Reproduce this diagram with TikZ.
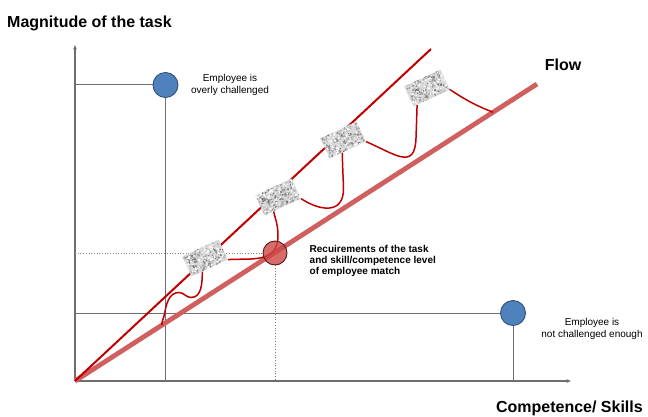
\documentclass[tikz,border=0pt]{standalone}
\usepackage{fontspec}
\setmainfont{Liberation Sans}
\usetikzlibrary{arrows.meta,calc}
\pgfdeclarelayer{background}
\pgfsetlayers{background,main}
\definecolor{axisgray}{RGB}{110,110,110}
\definecolor{darkred}{RGB}{192,0,0}
\definecolor{flowred}{RGB}{208,95,95}
\definecolor{bluefill}{RGB}{79,129,189}
\definecolor{blueedge}{RGB}{50,80,120}
\definecolor{matchfill}{RGB}{205,70,70}
\definecolor{matchedge}{RGB}{90,25,25}
\tikzset{
 axisline/.style={draw=axisgray, line width=1.1pt, -{Triangle[length=4.5pt,width=3.5pt]}},
 guideline/.style={draw=axisgray, line width=1pt},
 dotguide/.style={draw=gray, line width=0.7pt, dotted},
 taskline/.style={draw=darkred, line width=2pt},
 flowline/.style={draw=flowred, line width=4.8pt},
 waveline/.style={draw=darkred, line width=1.5pt},
 bluedot/.style={circle, fill=bluefill, draw=blueedge, line width=0.9pt, minimum size=25pt, inner sep=0pt},
 matchdot/.style={circle, fill=matchfill, fill opacity=0.8, draw=matchedge, line width=0.9pt, minimum size=24pt, inner sep=0pt},
 stonebox/.style={rectangle, minimum width=40pt, minimum height=22pt, inner sep=0pt, rotate=25, fill=gray!30},
 smalltxt/.style={font=\fontsize{10}{12}\selectfont, align=center, inner sep=0pt},
 bigtxt/.style={font=\fontsize{16}{19}\selectfont\bfseries, inner sep=0pt},
}
\newcommand\stonegrain[1]{%
 \begin{scope}[shift={(#1.center)}, rotate=25]
  \clip (-20,-11) rectangle (20,11);
  \foreach \k in {1,...,260}{%
   \pgfmathsetmacro\gx{-20+40*rnd}%
   \pgfmathsetmacro\gy{-11+22*rnd}%
   \pgfmathsetmacro\gg{int(5+55*rnd)}%
   \pgfmathsetmacro\gr{0.5+0.8*rnd}%
   \fill[black!\gg] (\gx,\gy) circle (\gr);
  }
  \foreach \k in {1,...,70}{%
   \pgfmathsetmacro\gx{-20+40*rnd}%
   \pgfmathsetmacro\gy{-11+22*rnd}%
   \pgfmathsetmacro\gr{0.5+0.7*rnd}%
   \fill[white] (\gx,\gy) circle (\gr);
  }
 \end{scope}}
\begin{document}
\begin{tikzpicture}[x=1pt,y=1pt]
\pgfmathsetseed{7}
\useasboundingbox (0,0) rectangle (648,416);
\coordinate (O) at (75,35);
\coordinate (yT) at (75,371);
\coordinate (xT) at (571,35);
\coordinate (U) at (431,367);
\coordinate (L) at (537,332);
\coordinate (c1) at ($(O)!0.188!(L)$);
\coordinate (c5) at ($(O)!0.9048!(L)$);
% circles
\node[bluedot] (b1) at (165.5,331) {};
\node[bluedot] (b2) at (513,103) {};
\node[matchdot] (m) at (275,163) {};
\coordinate (b1y) at (75,331);
\coordinate (b1x) at (165.5,35);
\coordinate (b2y) at (75,103);
\coordinate (b2x) at (513,35);
\coordinate (my) at (75,163);
\coordinate (mx) at (275,35);
% stones
\node[stonebox] (s1) at (205,158) {};
\stonegrain{s1}
\node[stonebox] (s2) at (278,219) {};
\stonegrain{s2}
\node[stonebox] (s3) at (343,276) {};
\stonegrain{s3}
\node[stonebox] (s4) at (427,328) {};
\stonegrain{s4}
% texts
\node[bigtxt, anchor=base west] (title) at (7,388) {Magnitude of the task};
\node[bigtxt, anchor=base east] (xlabel) at (643,4) {Competence/ Skills};
\node[bigtxt] (flow) at (563,351) {Flow};
\node[smalltxt] (t1) at (230,331) {Employee is\\overly challenged};
\node[smalltxt] (t2) at (592,87) {Employee is\\not challenged enough};
\node[font=\fontsize{10}{11}\selectfont\bfseries, align=left, anchor=north west, inner sep=0pt] (t3) at (309.5,170.5) {Recuirements of the task\\and skill/competence level\\of employee match};
\begin{pgfonlayer}{background}
\draw[axisline] (O) -- (yT);
\draw[axisline] (O) -- (xT);
\draw[guideline] (b1y) -- (b1);
\draw[guideline] (b1) -- (b1x);
\draw[guideline] (b2y) -- (b2);
\draw[guideline] (b2) -- (b2x);
\draw[dotguide] (my) -- (m);
\draw[dotguide] (m) -- (mx);
\draw[flowline] (O) -- (L);
\draw[taskline] (O) -- (U);
\draw[waveline] ($(s1.south west)!0.3!(s1.south east)$) to[out=-92,in=0] (191,118.5) to[out=180,in=0] (179,123.5) to[out=180,in=80] (164.5,102) to[out=-100,in=92] (c1);
\draw[waveline] (s1.south east) .. controls (250,158) and (278,152) .. (278,180) .. controls (278,192) and (275,198) .. ($(s2.south west)!0.25!(s2.south east)$);
\draw[waveline] (s2.south east) .. controls (318,206) and (344,200) .. (343.5,228) .. controls (343,242) and (342.5,252) .. ($(s3.south west)!0.35!(s3.south east)$);
\draw[waveline] (s3.south east) .. controls (395,262) and (415,245) .. (416,278) .. controls (416.5,292) and (416.8,302) .. ($(s4.south west)!0.1!(s4.south east)$);
\draw[waveline] (s4.south east) to[bend right=6] (c5);
\end{pgfonlayer}
\end{tikzpicture}
\end{document}
